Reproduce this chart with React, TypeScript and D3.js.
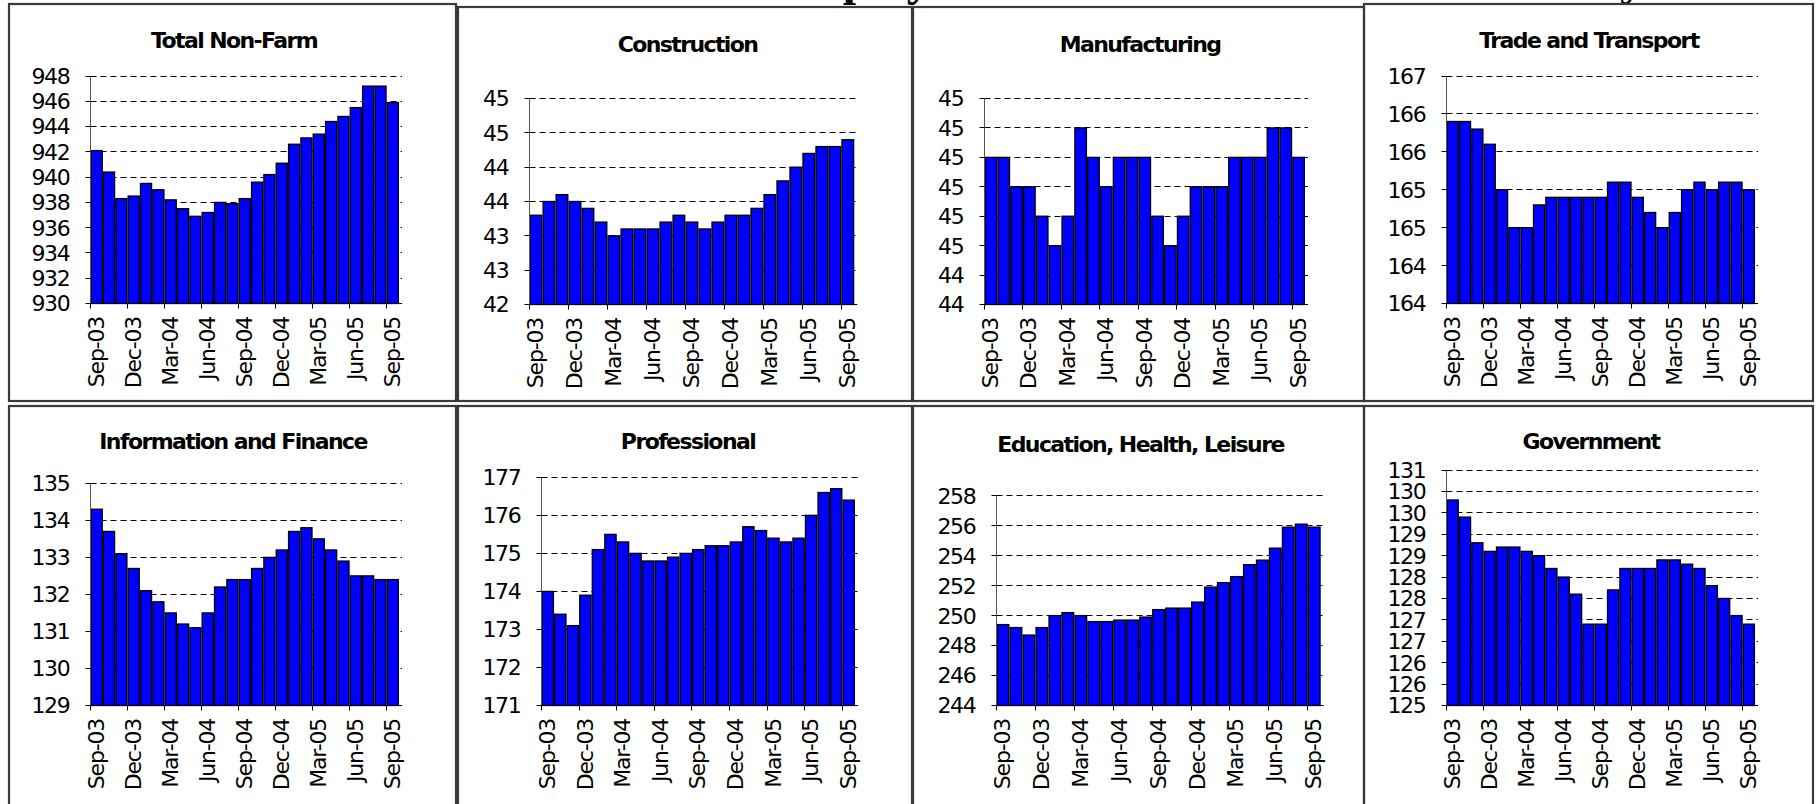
import * as d3 from "d3";

// months on the category axis
const months = [
  "Sep-03", "Oct-03", "Nov-03", "Dec-03", "Jan-04", "Feb-04", "Mar-04", "Apr-04", "May-04",
  "Jun-04", "Jul-04", "Aug-04", "Sep-04", "Oct-04", "Nov-04", "Dec-04", "Jan-05", "Feb-05",
  "Mar-05", "Apr-05", "May-05", "Jun-05", "Jul-05", "Aug-05", "Sep-05",
];

const totalNonFarm = [942.1, 940.4, 938.3, 938.5, 939.5, 939.0, 938.2, 937.5, 936.9, 937.2, 938.0, 937.9, 938.3, 939.6, 940.2, 941.1, 942.6, 943.1, 943.4, 944.4, 944.8, 945.5, 947.2, 947.2, 945.9];
const construction = [43.3, 43.5, 43.6, 43.5, 43.4, 43.2, 43.0, 43.1, 43.1, 43.1, 43.2, 43.3, 43.2, 43.1, 43.2, 43.3, 43.3, 43.4, 43.6, 43.8, 44.0, 44.2, 44.3, 44.3, 44.4];
const manufacturing = [44.8, 44.8, 44.7, 44.7, 44.6, 44.5, 44.6, 44.9, 44.8, 44.7, 44.8, 44.8, 44.8, 44.6, 44.5, 44.6, 44.7, 44.7, 44.7, 44.8, 44.8, 44.8, 44.9, 44.9, 44.8];
const tradeTransport = [166.4, 166.4, 166.3, 166.1, 165.5, 165.0, 165.0, 165.3, 165.4, 165.4, 165.4, 165.4, 165.4, 165.6, 165.6, 165.4, 165.2, 165.0, 165.2, 165.5, 165.6, 165.5, 165.6, 165.6, 165.5];
const infoFinance = [134.3, 133.7, 133.1, 132.7, 132.1, 131.8, 131.5, 131.2, 131.1, 131.5, 132.2, 132.4, 132.4, 132.7, 133.0, 133.2, 133.7, 133.8, 133.5, 133.2, 132.9, 132.5, 132.5, 132.4, 132.4];
const professional = [174.0, 173.4, 173.1, 173.9, 175.1, 175.5, 175.3, 175.0, 174.8, 174.8, 174.9, 175.0, 175.1, 175.2, 175.2, 175.3, 175.7, 175.6, 175.4, 175.3, 175.4, 176.0, 176.6, 176.7, 176.4];
const eduHealth = [249.4, 249.2, 248.7, 249.2, 250.0, 250.2, 250.0, 249.6, 249.6, 249.7, 249.7, 249.9, 250.4, 250.5, 250.5, 250.9, 251.9, 252.2, 252.6, 253.4, 253.7, 254.5, 255.9, 256.1, 255.9];
const government = [129.8, 129.4, 128.8, 128.6, 128.7, 128.7, 128.6, 128.5, 128.2, 128.0, 127.6, 126.9, 126.9, 127.7, 128.2, 128.2, 128.2, 128.4, 128.4, 128.3, 128.2, 127.8, 127.5, 127.1, 126.9];

// y ticks and the (rounded) labels Excel printed for them
const nonFarmTicks = [930, 932, 934, 936, 938, 940, 942, 944, 946, 948];
const nonFarmLabels = ["930", "932", "934", "936", "938", "940", "942", "944", "946", "948"];
const constructionTicks = [42, 42.5, 43, 43.5, 44, 44.5, 45];
const constructionLabels = ["42", "43", "43", "44", "44", "45", "45"];
const manufacturingTicks = [44.3, 44.4, 44.5, 44.6, 44.7, 44.8, 44.9, 45.0];
const manufacturingLabels = ["44", "44", "45", "45", "45", "45", "45", "45"];
const tradeTicks = [164, 164.5, 165, 165.5, 166, 166.5, 167];
const tradeLabels = ["164", "164", "165", "165", "166", "166", "167"];
const infoTicks = [129, 130, 131, 132, 133, 134, 135];
const infoLabels = ["129", "130", "131", "132", "133", "134", "135"];
const profTicks = [171, 172, 173, 174, 175, 176, 177];
const profLabels = ["171", "172", "173", "174", "175", "176", "177"];
const eduTicks = [244, 246, 248, 250, 252, 254, 256, 258];
const eduLabels = ["244", "246", "248", "250", "252", "254", "256", "258"];
const govTicks = [125, 125.5, 126, 126.5, 127, 127.5, 128, 128.5, 129, 129.5, 130, 130.5];
const govLabels = ["125", "126", "126", "127", "127", "128", "128", "129", "129", "130", "130", "131"];

const titles = [
  "Total Non-Farm", "Construction", "Manufacturing", "Trade and Transport",
  "Information and Finance", "Professional", "Education, Health, Leisure", "Government",
];
const series = [totalNonFarm, construction, manufacturing, tradeTransport, infoFinance, professional, eduHealth, government];
const tickSets = [nonFarmTicks, constructionTicks, manufacturingTicks, tradeTicks, infoTicks, profTicks, eduTicks, govTicks];
const labelSets = [nonFarmLabels, constructionLabels, manufacturingLabels, tradeLabels, infoLabels, profLabels, eduLabels, govLabels];

// page geometry of each cell: axis x, right end, plot top/bottom, title position
const layout = [
  { left: 90.5, right: 399, top: 76, bottom: 303.5, tx: 234, ty: 48.3 },
  { left: 529.5, right: 854.3, top: 98.5, bottom: 304.5, tx: 687.5, ty: 51.5 },
  { left: 984.5, right: 1305, top: 98.5, bottom: 304.5, tx: 1140, ty: 51.5 },
  { left: 1446.5, right: 1755, top: 76, bottom: 303.5, tx: 1589, ty: 48.3 },
  { left: 90.5, right: 399, top: 483.3, bottom: 705.5, tx: 233, ty: 449.3 },
  { left: 541.5, right: 855, top: 477.3, bottom: 705.5, tx: 688, ty: 449.3 },
  { left: 996.5, right: 1320.7, top: 495.7, bottom: 705.5, tx: 1140.5, ty: 451.7 },
  { left: 1446.5, right: 1755, top: 470, bottom: 705.5, tx: 1591, ty: 449.3 },
];

const boxes = [
  [9, 4, 456, 401], [458, 7, 912, 401], [913, 7, 1364, 401], [1364, 4, 1813, 401],
  [9, 406, 456, 830], [458, 406, 912, 830], [913, 406, 1364, 830], [1364, 406, 1813, 830],
];

const FONT = "'DejaVu Sans', Verdana, sans-serif";
const px = (v: number) => Math.round(v - 0.5) + 0.5;

function Panel({ idx }: { idx: number }) {
  const g = layout[idx];
  const values = series[idx];
  const ticks = tickSets[idx];
  const labels = labelSets[idx];
  const pad = 0.1;
  const x = d3.scaleBand().domain(months).range([g.left, g.right]).paddingInner(pad).paddingOuter(pad / 2);
  const y = d3.scaleLinear().domain([ticks[0], ticks[ticks.length - 1]]).range([g.bottom, g.top]);
  const step = x.step();
  const edge = (m: string) => px((x(m) as number) - (step * pad) / 2);
  const shown = months.filter((_, i) => i % 3 === 0);

  return (
    <g>
      <text x={g.tx} y={g.ty} textAnchor="middle" fontWeight="bold" fontSize={22} letterSpacing={-1.6} fill="#000">
        {titles[idx]}
      </text>
      {ticks.slice(1).map((t) => (
        <line key={"g" + t} x1={g.left} x2={g.right + 3} y1={px(y(t))} y2={px(y(t))} stroke="#000" strokeWidth={1} strokeDasharray="6,4" />
      ))}
      {values.map((v, i) => (
        <rect key={i} x={x(months[i])} y={y(v)} width={x.bandwidth()} height={g.bottom - y(v)}
          fill="#0000FF" stroke="#000" strokeWidth={1.3} />
      ))}
      <line x1={g.left} x2={g.left} y1={g.top} y2={g.bottom} stroke="#555" strokeWidth={1} />
      <line x1={g.left} x2={g.right + 3} y1={g.bottom} y2={g.bottom} stroke="#000" strokeWidth={1} />
      {ticks.map((t, i) => (
        <g key={"y" + t}>
          <line x1={g.left - 5} x2={g.left} y1={px(y(t))} y2={px(y(t))} stroke="#000" />
          <text x={g.left - 21} y={y(t)} dy="0.36em" textAnchor="end" fontSize={22} letterSpacing={-1.3} fill="#000">{labels[i]}</text>
        </g>
      ))}
      {shown.map((m) => (
        <g key={"x" + m}>
          <line x1={edge(m)} x2={edge(m)} y1={g.bottom} y2={g.bottom + 5} stroke="#000" />
          <text transform={`translate(${edge(m) + 13},${g.bottom + 13.5}) rotate(-90)`} textAnchor="end" fontSize={22} letterSpacing={-1.2} fill="#000">{m}</text>
        </g>
      ))}
    </g>
  );
}

export default function App() {
  return (
    <svg width={1818} height={804} style={{ position: "absolute", left: 0, top: 0, background: "#fff" }} fontFamily={FONT}>
      <rect width={1818} height={804} fill="#fff" />
      <text x={572} y={-5} fontFamily="'Liberation Serif', 'Times New Roman', serif" fontWeight="bold" fontSize={48} fill="#000">
        Nonfarm Employment Trends in Selected Sectors by Month
      </text>
      {boxes.map(([x0, y0, x1, y1], i) => (
        <rect key={"b" + i} x={x0} y={y0} width={x1 - x0} height={y1 - y0} fill="none" stroke="#3a3a3a" strokeWidth={2.2} />
      ))}
      {layout.map((_, i) => <Panel key={i} idx={i} />)}
    </svg>
  );
}
